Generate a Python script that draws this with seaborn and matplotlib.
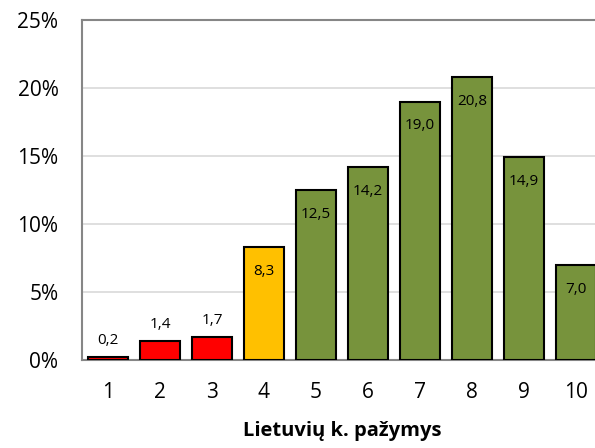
import matplotlib
matplotlib.use("Agg")
import matplotlib.pyplot as plt
import seaborn as sns
import pandas as pd

# grade categories and share of students (%)
grades = ["1", "2", "3", "4", "5", "6", "7", "8", "9", "10"]
shares = [0.2, 1.4, 1.7, 8.3, 12.5, 14.2, 19.0, 20.8, 14.9, 7.0]
bar_colors = ["#FF0000", "#FF0000", "#FF0000", "#FFC000",
              "#77933C", "#77933C", "#77933C", "#77933C", "#77933C", "#77933C"]
y_ticks = [0, 5, 10, 15, 20, 25]

sns.set_style("white")
plt.rcParams["font.family"] = ["Open Sans", "DejaVu Sans"]
plt.rcParams["text.color"] = "black"
plt.rcParams["xtick.labelcolor"] = "black"
plt.rcParams["ytick.labelcolor"] = "black"
plt.rcParams["axes.labelcolor"] = "black"

df = pd.DataFrame({"grade": grades, "share": shares})

fig = plt.figure(figsize=(5.95, 4.48), dpi=100)
# axes runs past the right edge of the figure, like the original (last bar clipped)
ax = fig.add_axes([82 / 595, 88 / 448, 520 / 595, 340 / 448])

sns.barplot(data=df, x="grade", y="share", hue="grade", palette=bar_colors,
            legend=False, width=0.77, edgecolor="black", linewidth=1.5,
            saturation=1, ax=ax, zorder=3)

ax.set_xlim(-0.5, len(grades) - 0.5)
ax.set_ylim(0, 25)
ax.set_yticks(y_ticks)
ax.set_yticklabels([f"{t}%" for t in y_ticks])
ax.grid(axis="y", color="#D9D9D9", linewidth=1.2, zorder=0)
ax.grid(axis="x", visible=False)

# category ticks sit between bars
ax.set_xticks([i - 0.5 for i in range(len(grades) + 1)], minor=False)
ax.set_xticklabels([])
ax.set_xticks(range(len(grades)), minor=True)
ax.set_xticklabels(grades, minor=True)
ax.tick_params(axis="x", which="major", length=8, width=1.5, color="#868686", direction="out")
ax.tick_params(axis="x", which="minor", length=0, labelsize=15, labelcolor="black", pad=16)
ax.tick_params(axis="y", length=8, width=1.5, color="#868686", direction="out",
               labelsize=15, labelcolor="black", pad=9)

for side in ["left", "bottom", "top"]:
    ax.spines[side].set_color("#868686")
    ax.spines[side].set_linewidth(1.5)
ax.spines["right"].set_visible(False)

ax.set_xlabel("Lietuvių k. pažymys", fontsize=14.5, fontweight="bold",
              color="black", labelpad=13)
ax.set_ylabel("")

for i, v in enumerate(shares):
    label = f"{v:.1f}".replace(".", ",")
    if v < 5:
        ax.annotate(label, (i, v), xytext=(0, 12), textcoords="offset points",
                    ha="center", va="center", fontsize=11, color="black", zorder=4)
    else:
        ax.annotate(label, (i, v), xytext=(0, -17.5), textcoords="offset points",
                    ha="center", va="center", fontsize=11, color="black", zorder=4)

fig.savefig("out.png", dpi=100)
